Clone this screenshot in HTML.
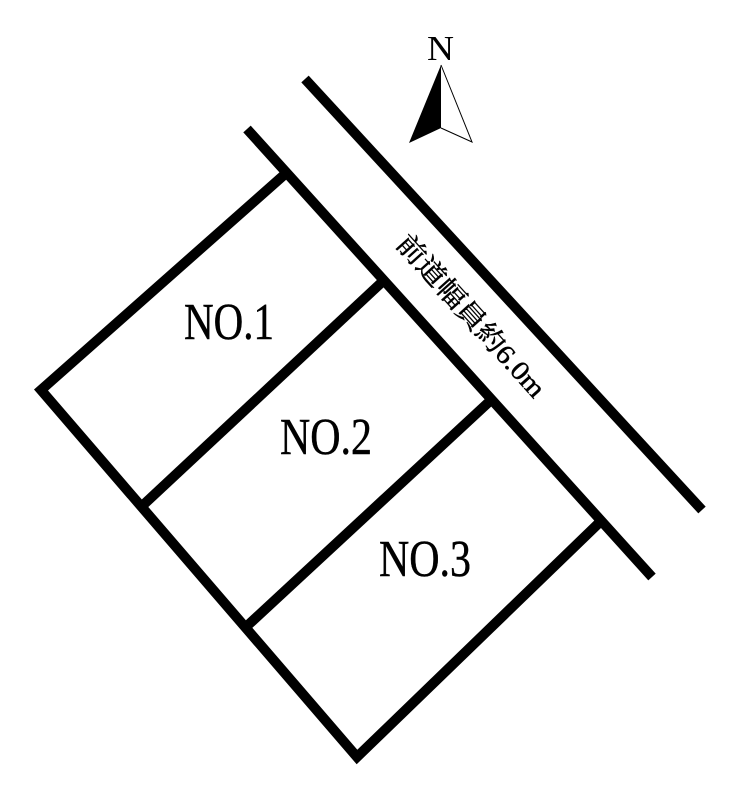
<!DOCTYPE html>
<html>
<head>
<meta charset="utf-8">
<style>
html,body{margin:0;padding:0;background:#fff;width:740px;height:801px;overflow:hidden}
svg{display:block}
text{font-family:"Liberation Serif","Noto Serif CJK SC",serif;fill:#000}
</style>
</head>
<body>
<svg width="740" height="801" viewBox="0 0 740 801" xmlns="http://www.w3.org/2000/svg">
<rect width="740" height="801" fill="#fff"/>
<g stroke="#000" stroke-width="10" fill="none">
<line x1="305" y1="79" x2="702" y2="510"/>
<line x1="247" y1="129" x2="652" y2="577"/>
<polyline points="284,175 41,390 357,757 600,522" stroke-miterlimit="10"/>
<line x1="381" y1="283" x2="141" y2="507"/>
<line x1="490" y1="401" x2="247" y2="626"/>
</g>
<polygon points="441,65 441,128 409,143" fill="#000"/>
<polyline points="441,65 472,142 441,128" fill="none" stroke="#000" stroke-width="1"/>
<text x="440.5" y="60" font-size="35" text-anchor="middle" textLength="27" lengthAdjust="spacingAndGlyphs">N</text>
<g stroke="#000" stroke-width="0.5">
<text x="229" y="339" font-size="52" text-anchor="middle" textLength="90" lengthAdjust="spacingAndGlyphs">NO.1</text>
<text x="326" y="454" font-size="52" text-anchor="middle" textLength="92" lengthAdjust="spacingAndGlyphs">NO.2</text>
<text x="425" y="576" font-size="52" text-anchor="middle" textLength="92" lengthAdjust="spacingAndGlyphs">NO.3</text>
<text transform="translate(471,316) rotate(48)" y="9" font-size="27" text-anchor="middle" textLength="208" lengthAdjust="spacingAndGlyphs">前道幅員約6.0m</text>
</g>
</svg>
</body>
</html>
